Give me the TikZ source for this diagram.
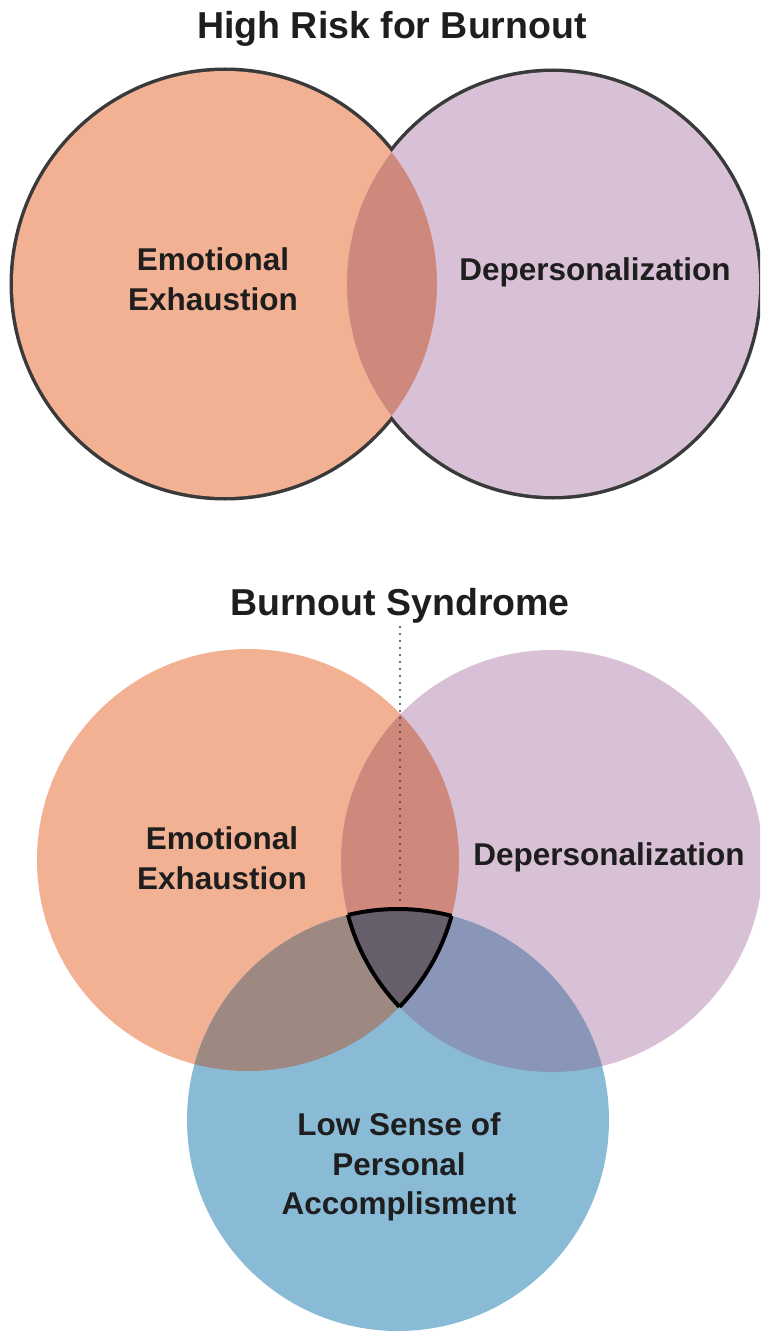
\documentclass[tikz,border=0pt]{standalone}
\usepackage{fontspec}
\setmainfont{Liberation Sans}

\definecolor{ee}{HTML}{F3B193}
\definecolor{dp}{HTML}{D8C1D6}
\definecolor{lsa}{HTML}{8ABBD6}
\definecolor{eedp}{HTML}{CF887C}
\definecolor{eelsa}{HTML}{9D8981}
\definecolor{dplsa}{HTML}{8A96B7}
\definecolor{core}{HTML}{675E6B}
\definecolor{rim}{HTML}{3A3A3A}
\definecolor{txt}{HTML}{1E1E1E}

\tikzset{
    ttl/.style={font=\bfseries\fontsize{37.5}{44}\selectfont, text=txt, inner sep=4pt},
    lbl/.style={font=\bfseries\fontsize{31.5}{39.5}\selectfont, text=txt, align=center},
    dotline/.style={draw=black!75, line width=2.4pt, line cap=round, dash pattern=on 0pt off 7pt},
    coreline/.style={draw=black, line width=4pt}
}

\begin{document}
\begin{tikzpicture}[x=1pt,y=-1pt]
        \useasboundingbox (0,0) rectangle (760,1332);
        \clip (0,0) rectangle (760,1332);

        % high risk: two sets
        \node[ttl, anchor=base] (risk) at (392,39) {High Risk for Burnout};
        \draw[rim, line width=7pt] (225,284) ellipse [x radius=212pt, y radius=213pt];
        \draw[rim, line width=7pt] (553,284) ellipse [x radius=206pt, y radius=212pt];
        \fill[ee] (225,284) ellipse [x radius=212pt, y radius=213pt];
        \fill[dp] (553,284) ellipse [x radius=206pt, y radius=212pt];
        \begin{scope}
            \clip (225,284) ellipse [x radius=212pt, y radius=213pt];
            \fill[eedp] (553,284) ellipse [x radius=206pt, y radius=212pt];
        \end{scope}
        \node[lbl] (ee1) at (213,279) {Emotional\\Exhaustion};
        \node[lbl] (dp1) at (595,272) {Depersonalization};

        % syndrome: three sets
        \coordinate (ee2c) at (248,860);
        \coordinate (dp2c) at (552,861);
        \coordinate (lsac) at (398,1120);
        \fill[ee] (ee2c) circle [radius=211pt];
        \fill[dp] (dp2c) circle [radius=211pt];
        \fill[lsa] (lsac) circle [radius=211pt];
        \begin{scope}
            \clip (ee2c) circle [radius=211pt];
            \fill[eedp] (dp2c) circle [radius=211pt];
            \fill[eelsa] (lsac) circle [radius=211pt];
        \end{scope}
        \begin{scope}
            \clip (dp2c) circle [radius=211pt];
            \fill[dplsa] (lsac) circle [radius=211pt];
        \end{scope}
        \begin{scope}
            \clip (ee2c) circle [radius=211pt];
            \clip (dp2c) circle [radius=211pt];
            \fill[core] (lsac) circle [radius=211pt];
            \draw[coreline] (lsac) circle [radius=211pt];
        \end{scope}
        \begin{scope}
            \clip (ee2c) circle [radius=211pt];
            \clip (lsac) circle [radius=211pt];
            \draw[coreline] (dp2c) circle [radius=211pt];
        \end{scope}
        \begin{scope}
            \clip (dp2c) circle [radius=211pt];
            \clip (lsac) circle [radius=211pt];
            \draw[coreline] (ee2c) circle [radius=211pt];
        \end{scope}

        \node[ttl, anchor=base] (syn) at (400,615) {Burnout Syndrome};
        \coordinate (coretop) at (400,905);
        \draw[dotline] (syn.south) -- (coretop);

        \node[lbl] (ee2) at (222,858) {Emotional\\Exhaustion};
        \node[lbl] (dp2) at (609,857) {Depersonalization};
        \node[lbl] (lsa2) at (399,1167) {Low Sense of\\Personal\\Accomplisment};
\end{tikzpicture}
\end{document}
